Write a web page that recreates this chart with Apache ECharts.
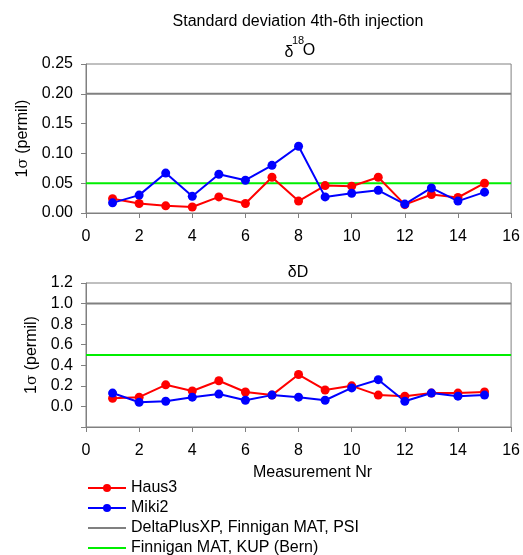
<!DOCTYPE html>
<html>
<head>
<meta charset="utf-8">
<script src="https://cdn.jsdelivr.net/npm/echarts@6/dist/echarts.min.js"></script>
<style>
  html, body { margin: 0; padding: 0; background: #fff; }
  #chart { width: 523px; height: 555px; }
</style>
</head>
<body>
<div id="chart"></div>
<script>
// Measurement numbers 1..15
const measurements = [1, 2, 3, 4, 5, 6, 7, 8, 9, 10, 11, 12, 13, 14, 15];

// delta 18O standard deviations (permil)
const haus3O = [0.024, 0.016, 0.012, 0.010, 0.027, 0.016, 0.060, 0.020, 0.046, 0.045, 0.060, 0.014, 0.031, 0.026, 0.050];
const miki2O = [0.017, 0.030, 0.067, 0.028, 0.065, 0.055, 0.080, 0.112, 0.027, 0.033, 0.038, 0.015, 0.042, 0.020, 0.035];

// delta D standard deviations (permil)
const haus3D = [0.08, 0.09, 0.21, 0.15, 0.25, 0.14, 0.11, 0.31, 0.16, 0.20, 0.11, 0.10, 0.13, 0.13, 0.14];
const miki2D = [0.13, 0.04, 0.05, 0.09, 0.12, 0.06, 0.11, 0.09, 0.06, 0.18, 0.26, 0.05, 0.13, 0.10, 0.11];

// Reference precision of the instruments
const refPSI = { o: 0.2, d: 1.0 };
const refKUP = { o: 0.05, d: 0.5 };

const xTicks = [0, 2, 4, 6, 8, 10, 12, 14, 16];

const legendNames = ['Haus3', 'Miki2', 'DeltaPlusXP, Finnigan MAT, PSI', 'Finnigan MAT, KUP (Bern)'];

const FONT = 'Liberation Sans, Arial, sans-serif';
const FS = 16;
const GRAY = '#808080';
const GREEN = '#00ee00';

const pairs = (xs, ys) => xs.map((x, i) => [x, ys[i]]);
const flat = (v) => [[xTicks[0], v], [xTicks[xTicks.length - 1], v]];

function dataSeries(name, color, data, idx) {
  return {
    name, type: 'line', xAxisIndex: idx, yAxisIndex: idx,
    data, symbol: 'circle', symbolSize: 9,
    lineStyle: { color, width: 2 }, itemStyle: { color },
    animation: false, z: 3
  };
}
function refSeries(name, color, data, idx) {
  return {
    name, type: 'line', xAxisIndex: idx, yAxisIndex: idx,
    data, symbol: 'none', showSymbol: false,
    lineStyle: { color, width: 2 }, itemStyle: { color },
    animation: false, z: 2
  };
}

const yName = '1{s|σ} (permil)';
const yNameStyle = {
  fontFamily: FONT, fontSize: FS, color: '#000',
  rich: { s: { fontFamily: 'DejaVu Serif, serif', fontSize: FS - 1, color: '#000' } }
};

function xAxis(idx, showName) {
  return {
    type: 'value', gridIndex: idx, min: 0, max: 16, interval: 2,
    axisLine: { show: true, onZero: false, lineStyle: { color: GRAY, width: 1 } },
    axisTick: { show: true, length: 5, lineStyle: { color: GRAY } },
    axisLabel: { fontFamily: FONT, fontSize: FS, color: '#000', margin: 16 },
    splitLine: { show: false },
    name: showName ? 'Measurement Nr' : '',
    nameLocation: 'middle', nameGap: 38,
    nameTextStyle: { fontFamily: FONT, fontSize: FS, color: '#000', padding: [0, 0, 0, 28] }
  };
}

// one single-row legend per entry, stacked in a column
function legendRow(i) {
  const plain = i >= 2;
  return {
    orient: 'vertical', left: 82, top: 475 + i * 20,
    itemWidth: 38, itemHeight: 10, itemGap: 0,
    textStyle: { fontFamily: FONT, fontSize: FS, color: '#000' },
    data: [plain ? { name: legendNames[i], itemStyle: { opacity: 0 } } : legendNames[i]]
  };
}

const textFont = (size) => `${size}px ${FONT}`;

const option = {
  backgroundColor: '#fff',
  animation: false,
  title: [
    { text: 'Standard deviation 4th-6th injection', left: 293, top: 9, textAlign: 'center',
      textStyle: { fontFamily: FONT, fontSize: FS, fontWeight: 'normal', color: '#000' } },
    { text: 'δD', left: 293, top: 260, textAlign: 'center',
      textStyle: { fontFamily: FONT, fontSize: FS, fontWeight: 'normal', color: '#000' } }
  ],
  graphic: [
    { type: 'text', x: 289, y: 53, style: { text: 'δ', font: textFont(FS), fill: '#000', align: 'center', verticalAlign: 'middle' } },
    { type: 'text', x: 298, y: 41, style: { text: '18', font: textFont(11), fill: '#000', align: 'center', verticalAlign: 'middle' } },
    { type: 'text', x: 309, y: 51, style: { text: 'O', font: textFont(FS), fill: '#000', align: 'center', verticalAlign: 'middle' } }
  ],
  grid: [
    { left: 86, top: 64, width: 427, height: 149, show: true, borderColor: GRAY, borderWidth: 1, backgroundColor: 'transparent' },
    { left: 86, top: 283, width: 427, height: 144, show: true, borderColor: GRAY, borderWidth: 1, backgroundColor: 'transparent' }
  ],
  xAxis: [xAxis(0, false), xAxis(1, true)],
  yAxis: [
    {
      type: 'value', gridIndex: 0, min: 0, max: 0.25, interval: 0.05,
      axisLine: { show: true, lineStyle: { color: GRAY } },
      axisTick: { show: true, length: 5, lineStyle: { color: GRAY } },
      axisLabel: { fontFamily: FONT, fontSize: FS, color: '#000', margin: 13,
        formatter: (v) => v.toFixed(2) },
      splitLine: { show: false },
      name: yName, nameLocation: 'middle', nameRotate: 90, nameGap: 55,
      nameTextStyle: yNameStyle
    },
    {
      type: 'value', gridIndex: 1, min: -0.2, max: 1.2, interval: 0.2,
      axisLine: { show: true, lineStyle: { color: GRAY } },
      axisTick: { show: true, length: 5, lineStyle: { color: GRAY } },
      axisLabel: { fontFamily: FONT, fontSize: FS, color: '#000', margin: 13,
        formatter: (v) => (v < -0.01 ? '' : (Math.abs(v) < 1e-9 ? 0 : v).toFixed(1)) },
      splitLine: { show: false },
      name: yName, nameLocation: 'middle', nameRotate: 90, nameGap: 45,
      nameTextStyle: yNameStyle
    }
  ],
  legend: [legendRow(0), legendRow(1), legendRow(2), legendRow(3)],
  series: [
    refSeries(legendNames[2], GRAY, flat(refPSI.o), 0),
    refSeries(legendNames[3], GREEN, flat(refKUP.o), 0),
    dataSeries(legendNames[0], '#ff0000', pairs(measurements, haus3O), 0),
    dataSeries(legendNames[1], '#0000ff', pairs(measurements, miki2O), 0),
    refSeries(legendNames[2], GRAY, flat(refPSI.d), 1),
    refSeries(legendNames[3], GREEN, flat(refKUP.d), 1),
    dataSeries(legendNames[0], '#ff0000', pairs(measurements, haus3D), 1),
    dataSeries(legendNames[1], '#0000ff', pairs(measurements, miki2D), 1)
  ]
};

const chart = echarts.init(document.getElementById('chart'), null, { renderer: 'canvas' });
chart.setOption(option);
</script>
</body>
</html>
